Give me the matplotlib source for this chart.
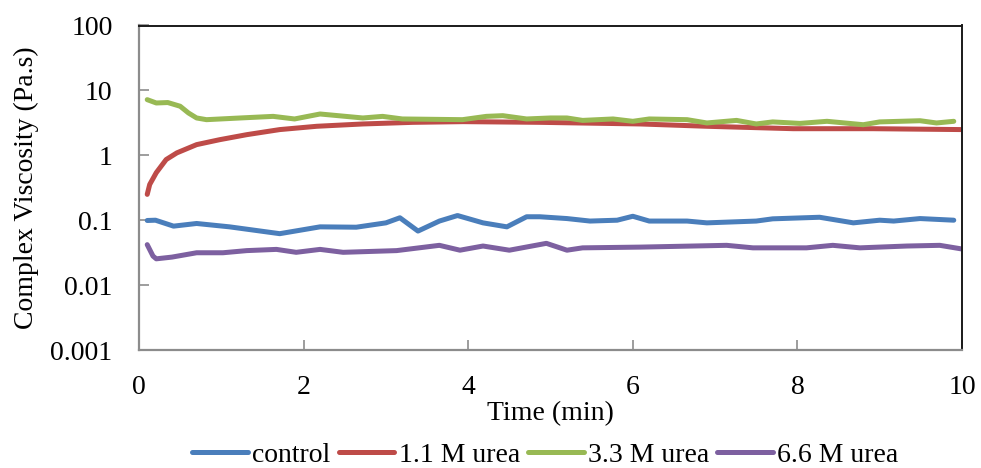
import matplotlib
matplotlib.use("Agg")
import matplotlib.pyplot as plt
from matplotlib.ticker import FixedLocator, FixedFormatter, NullLocator

plt.rcParams['font.family'] = ['Liberation Serif', 'DejaVu Serif']

# Time (min) and complex viscosity (Pa.s) for each sample
control_t = [0.1, 0.2, 0.42, 0.70, 1.1, 1.71, 2.2, 2.64, 3.0, 3.17, 3.39, 3.65, 3.87,
             4.18, 4.47, 4.71, 4.87, 5.2, 5.48, 5.81, 6.0, 6.2, 6.66, 6.9, 7.5, 7.7,
             8.27, 8.68, 9.0, 9.17, 9.49, 9.9]
control_v = [0.099, 0.1, 0.081, 0.089, 0.079, 0.062, 0.079, 0.078, 0.091, 0.109, 0.068,
             0.097, 0.118, 0.091, 0.079, 0.113, 0.113, 0.106, 0.097, 0.1, 0.115, 0.097,
             0.097, 0.091, 0.097, 0.105, 0.111, 0.091, 0.1, 0.097, 0.106, 0.1]

urea11_t = [0.1, 0.13, 0.21, 0.33, 0.46, 0.70, 0.98, 1.31, 1.71, 2.16, 2.72, 3.33,
            3.94, 4.87, 6.09, 6.9, 7.95, 8.92, 10.0]
urea11_v = [0.25, 0.355, 0.54, 0.86, 1.09, 1.46, 1.74, 2.08, 2.49, 2.8, 3.04, 3.22,
            3.3, 3.22, 3.04, 2.8, 2.57, 2.57, 2.49]

urea33_t = [0.1, 0.21, 0.35, 0.5, 0.6, 0.7, 0.82, 1.23, 1.63, 1.89, 2.2, 2.72, 2.96,
            3.2, 3.93, 4.22, 4.42, 4.71, 5.0, 5.2, 5.39, 5.76, 6.0, 6.2, 6.66, 6.9,
            7.26, 7.5, 7.7, 8.03, 8.36, 8.8, 9.0, 9.49, 9.69, 9.9]
urea33_v = [7.2, 6.4, 6.5, 5.7, 4.5, 3.76, 3.54, 3.76, 3.98, 3.63, 4.33, 3.76, 3.98,
            3.63, 3.54, 3.98, 4.08, 3.63, 3.76, 3.76, 3.45, 3.63, 3.34, 3.63, 3.54, 3.15,
            3.45, 3.04, 3.27, 3.1, 3.34, 2.96, 3.27, 3.41, 3.15, 3.34]

urea66_t = [0.1, 0.17, 0.21, 0.4, 0.70, 1.02, 1.31, 1.67, 1.91, 2.2, 2.48, 3.13, 3.65,
            3.9, 4.18, 4.5, 4.95, 5.2, 5.39, 6.09, 7.14, 7.46, 8.11, 8.43, 8.76, 9.33,
            9.73, 10.0]
urea66_v = [0.042, 0.028, 0.0254, 0.027, 0.0315, 0.0315, 0.034, 0.0355, 0.032, 0.0355,
            0.032, 0.034, 0.041, 0.0345, 0.04, 0.0345, 0.044, 0.0345, 0.0375, 0.0385,
            0.041, 0.0375, 0.0375, 0.041, 0.0375, 0.04, 0.041, 0.036]

labels = ['control', '1.1 M urea', '3.3 M urea', '6.6 M urea']
colors = ['#4A7EBB', '#BE4B48', '#98B954', '#7D60A0']

y_ticks = [0.001, 0.01, 0.1, 1, 10, 100]
y_tick_labels = ['0.001', '0.01', '0.1', '1', '10', '100']
x_ticks = [0, 2, 4, 6, 8, 10]

fig = plt.figure(figsize=(9.81, 4.68), dpi=100)
ax = fig.add_axes([139 / 981, 1 - 350 / 468, (962 - 139) / 981, (350 - 25.5) / 468])

series = [(control_t, control_v), (urea11_t, urea11_v),
          (urea33_t, urea33_v), (urea66_t, urea66_v)]
for (t, v), lab, c in zip(series, labels, colors):
    ax.plot(t, v, color=c, lw=3.6, label=lab, solid_capstyle='round',
            solid_joinstyle='round')

ax.set_yscale('log')
ax.set_ylim(0.001, 100)
ax.set_xlim(0, 10)
ax.yaxis.set_major_locator(FixedLocator(y_ticks))
ax.yaxis.set_major_formatter(FixedFormatter(y_tick_labels))
ax.yaxis.set_minor_locator(NullLocator())
ax.set_xticks(x_ticks)

ax.tick_params(axis='both', direction='in', length=7, width=1.2, color='#8C8C8C',
               labelsize=20)
ax.tick_params(axis='y', pad=19)
ax.tick_params(axis='x', pad=18)

for side in ['left', 'bottom']:
    ax.spines[side].set_color('#8C8C8C')
    ax.spines[side].set_linewidth(1.6)
for side in ['top', 'right']:
    ax.spines[side].set_color('#1a1a1a')
    ax.spines[side].set_linewidth(1.4)

ax.set_xlabel('Time (min)', fontsize=20, labelpad=1)
ax.set_ylabel('Complex Viscosity (Pa.s)', fontsize=20, labelpad=8)

fig.legend(loc='center', bbox_to_anchor=(0.556, 0.028), ncol=4, frameon=False,
           fontsize=20, handlelength=2.0, handletextpad=0.15, columnspacing=0.3,
           borderpad=0)

fig.savefig('out.png', dpi=100)
